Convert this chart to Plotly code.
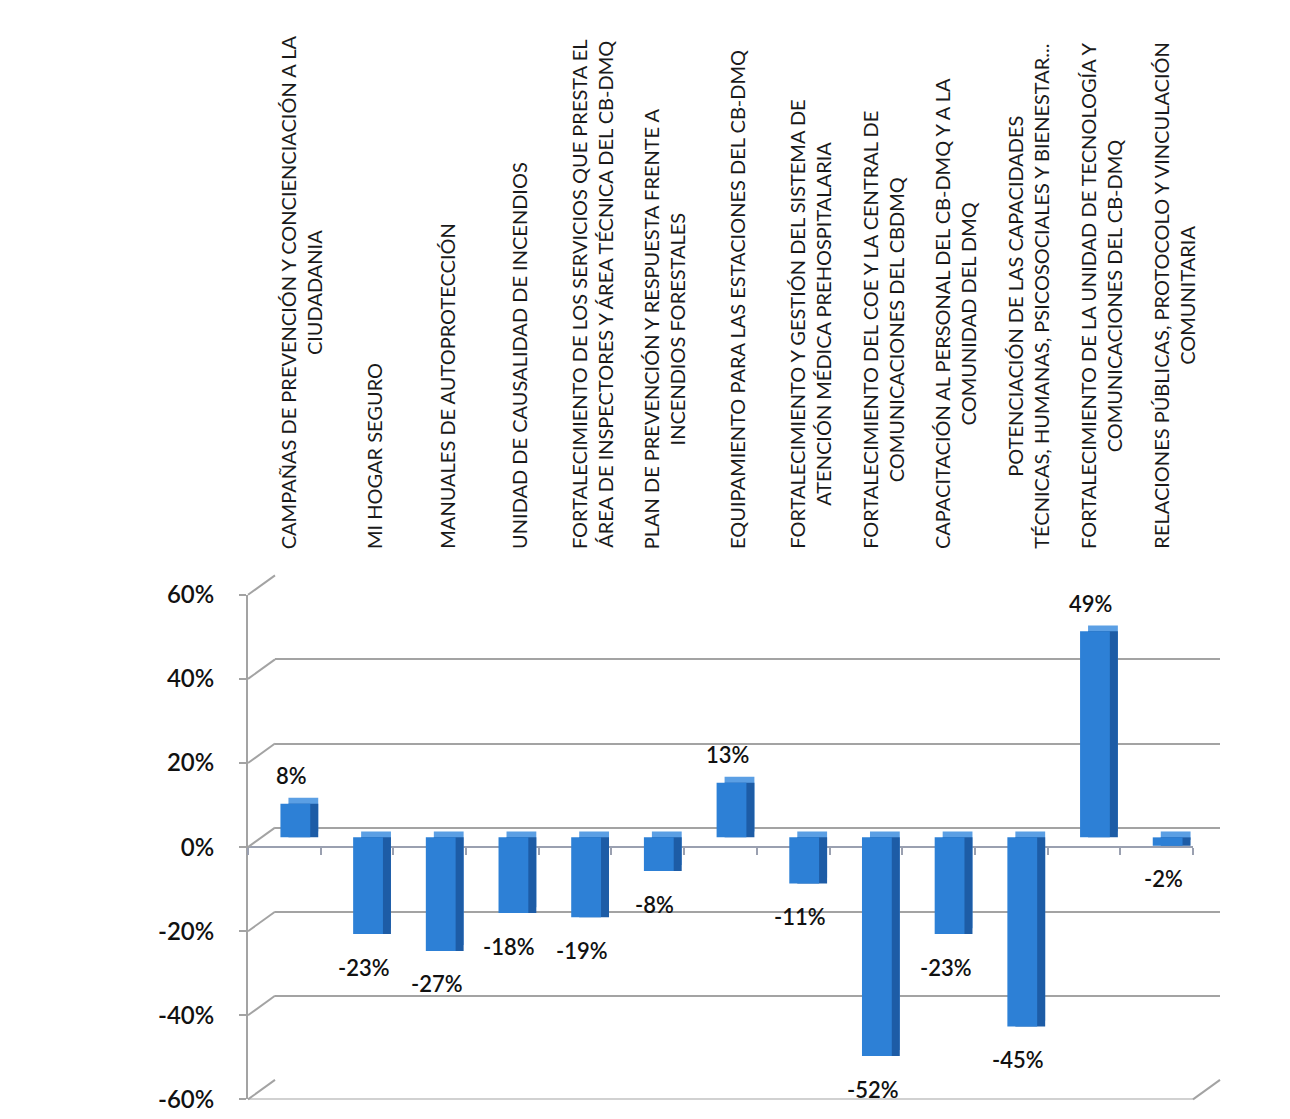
import plotly.graph_objects as go

categories = [
    "CAMPAÑAS DE PREVENCIÓN Y CONCIENCIACIÓN A LA<br>CIUDADANIA",
    "MI HOGAR SEGURO",
    "MANUALES DE AUTOPROTECCIÓN",
    "UNIDAD DE CAUSALIDAD DE INCENDIOS",
    "FORTALECIMIENTO DE LOS SERVICIOS QUE PRESTA EL<br>ÁREA DE INSPECTORES Y ÁREA TÉCNICA DEL CB-DMQ",
    "PLAN DE PREVENCIÓN Y RESPUESTA FRENTE A<br>INCENDIOS FORESTALES",
    "EQUIPAMIENTO PARA LAS ESTACIONES DEL CB-DMQ",
    "FORTALECIMIENTO Y GESTIÓN DEL SISTEMA DE<br>ATENCIÓN MÉDICA PREHOSPITALARIA",
    "FORTALECIMIENTO DEL COE Y LA CENTRAL DE<br>COMUNICACIONES DEL CBDMQ",
    "CAPACITACIÓN AL PERSONAL DEL CB-DMQ Y A LA<br>COMUNIDAD DEL DMQ",
    "POTENCIACIÓN DE LAS CAPACIDADES<br>TÉCNICAS, HUMANAS, PSICOSOCIALES Y BIENESTAR...",
    "FORTALECIMIENTO DE LA UNIDAD DE TECNOLOGÍA Y<br>COMUNICACIONES DEL CB-DMQ",
    "RELACIONES PÚBLICAS, PROTOCOLO Y VINCULACIÓN<br>COMUNITARIA",
]
values = [8, -23, -27, -18, -19, -8, 13, -11, -52, -23, -45, 49, -2]
value_labels = [f"{v}%" for v in values]
y_ticks = [-60, -40, -20, 0, 20, 40, 60]
y_tick_labels = ["-60%", "-40%", "-20%", "0%", "20%", "40%", "60%"]

W, H = 1290, 1119
FONT = "Lato"


def px_x(p):
    return p / W


def px_y(p):
    return (H - p) / H


# front plane (axes), back wall (grid), middle plane (bars)
FL, FR, FT, FB = 240, 1185, 586, 1104
BDX, BDY = 27, 20
MDX, MDY = 11, 10
YMIN, YMAX = -60, 60
n = len(categories)
xr = [-0.5, n - 0.5]


def front_py(t):
    return FB - (t - YMIN) / (YMAX - YMIN) * (FB - FT)


fig = go.Figure()

# invisible anchors so every subplot has its categories
for xa, ya in [("x", "y"), ("x2", "y2")]:
    fig.add_trace(go.Scatter(x=categories, y=values, mode="markers",
                             marker=dict(opacity=0), hoverinfo="skip",
                             showlegend=False, xaxis=xa, yaxis=ya))

BAR_W = 0.41
DXC = 0.11
DEPTH = 1.4
fig.add_trace(go.Bar(x=categories, y=values, base=[DEPTH] * n, width=BAR_W,
                     offset=-BAR_W / 2 + DXC, marker=dict(color="#5b9fe4", line=dict(width=0)),
                     hoverinfo="skip", showlegend=False, xaxis="x3", yaxis="y3"))
fig.add_trace(go.Bar(x=categories, y=values, base=[0] * n, width=BAR_W,
                     offset=-BAR_W / 2 + DXC, marker=dict(color="#1d5ca6", line=dict(width=0)),
                     hoverinfo="skip", showlegend=False, xaxis="x3", yaxis="y3"))
fig.add_trace(go.Bar(x=categories, y=values, width=BAR_W, offset=-BAR_W / 2,
                     marker=dict(color="#2d80d6", line=dict(width=0)),
                     showlegend=False, xaxis="x3", yaxis="y3"))

annotations = []
for c, v, lab in zip(categories, values, value_labels):
    pos = v >= 0
    annotations.append(dict(
        x=c, y=(v + DEPTH) if pos else v, xref="x3", yref="y3",
        text=lab, showarrow=False, xanchor="center", yanchor="middle",
        yshift=22 if pos else -33, xshift=-4,
        font=dict(family=FONT, size=22, color="#111111", weight=600)))

for c in categories:
    annotations.append(dict(
        x=c, y=px_y(541), xref="x2", yref="paper", text=c, showarrow=False,
        textangle=-90, xanchor="center", yanchor="bottom", align="center",
        xshift=-10, font=dict(family=FONT, size=20, color="#1a1a1a")))

shapes = []
grid_col = "#a3a3a3"
for t in y_ticks:
    shapes.append(dict(type="line", xref="paper", yref="paper",
                       x0=px_x(FL), y0=px_y(front_py(t)),
                       x1=px_x(FL + BDX), y1=px_y(front_py(t) - BDY),
                       line=dict(color=grid_col, width=2)))
# floor
shapes.append(dict(type="line", xref="paper", yref="y", x0=px_x(FL), x1=px_x(FR),
                   y0=YMIN, y1=YMIN, line=dict(color=grid_col, width=2)))
shapes.append(dict(type="line", xref="paper", yref="paper",
                   x0=px_x(FR), y0=px_y(front_py(YMIN)),
                   x1=px_x(FR + BDX), y1=px_y(front_py(YMIN) - BDY),
                   line=dict(color=grid_col, width=2)))

fig.update_layout(
    width=W, height=H,
    margin=dict(l=0, r=0, t=0, b=0),
    paper_bgcolor="white", plot_bgcolor="rgba(0,0,0,0)",
    barmode="overlay", showlegend=False,
    font=dict(family=FONT),
    xaxis=dict(domain=[px_x(FL), px_x(FR)], type="category", categoryorder="array",
               categoryarray=categories, range=xr, anchor="free",
               position=px_y(front_py(0)), showline=True, linecolor="#9aa0b0",
               linewidth=2, ticks="outside", tickson="boundaries", ticklen=7,
               tickcolor="#9aa0b0", tickwidth=2, showticklabels=False,
               showgrid=False, zeroline=False),
    yaxis=dict(domain=[px_y(FB), px_y(FT)], range=[YMIN, YMAX], anchor="x",
               tickvals=y_ticks, ticktext=y_tick_labels, showline=True,
               linecolor=grid_col, linewidth=2, ticks="outside", ticklen=7,
               tickcolor=grid_col, tickwidth=2, showgrid=False, zeroline=False,
               ticklabelstandoff=20,
               tickfont=dict(family=FONT, size=24, color="#111111", weight=600)),
    xaxis2=dict(domain=[px_x(FL + BDX), px_x(FR + BDX)], type="category",
                categoryorder="array", categoryarray=categories, range=xr,
                anchor="y2", visible=False),
    yaxis2=dict(domain=[px_y(FB - BDY), px_y(FT - BDY)], range=[YMIN, YMAX],
                anchor="x2", tickvals=y_ticks, showgrid=True, gridcolor=grid_col,
                gridwidth=2, showticklabels=False, zeroline=False, ticks=""),
    xaxis3=dict(domain=[px_x(FL + MDX), px_x(FR + MDX)], type="category",
                categoryorder="array", categoryarray=categories, range=xr,
                anchor="y3", visible=False),
    yaxis3=dict(domain=[px_y(FB - MDY), px_y(FT - MDY)], range=[YMIN, YMAX],
                anchor="x3", visible=False),
    annotations=annotations,
    shapes=shapes,
)

fig.write_html("out.html")
